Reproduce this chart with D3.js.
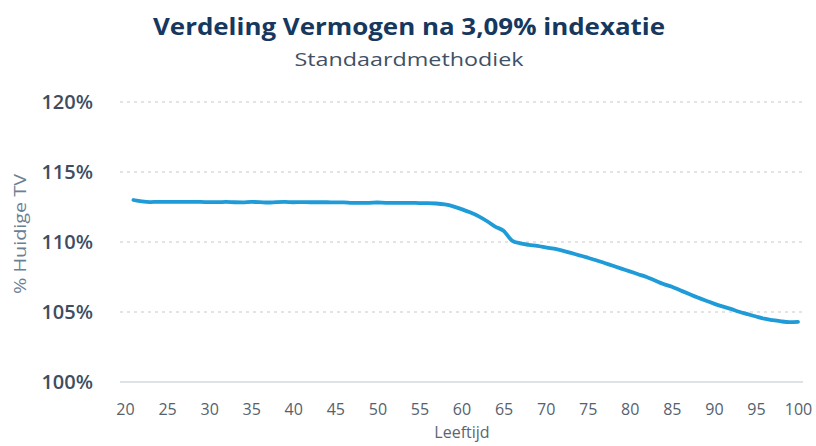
<!DOCTYPE html>
<html>
<head>
<meta charset="utf-8">
<script src="https://cdn.jsdelivr.net/npm/d3@7"></script>
<style>
  body { margin: 0; background: #fff; }
  svg { display: block; font-family: "Open Sans", "Noto Sans", sans-serif; }
</style>
</head>
<body>
<script>
var ages = [];
for (var a = 21; a <= 100; a++) ages.push(a);

var values = [
  113.0, 112.9, 112.85, 112.87, 112.87, 112.86, 112.87, 112.86, 112.86, 112.85,   // 21-30
  112.85, 112.86, 112.84, 112.83, 112.86, 112.85, 112.82, 112.85, 112.86, 112.84, // 31-40
  112.85, 112.84, 112.84, 112.84, 112.83, 112.83, 112.8, 112.8, 112.8, 112.82,    // 41-50
  112.8, 112.8, 112.8, 112.8, 112.78, 112.78, 112.75, 112.68, 112.55, 112.35,     // 51-60
  112.12, 111.85, 111.5, 111.1, 110.8, 110.1, 109.9, 109.8, 109.72, 109.62,       // 61-70
  109.52, 109.38, 109.22, 109.05, 108.88, 108.7, 108.5, 108.3, 108.1, 107.9,      // 71-80
  107.7, 107.5, 107.25, 107.0, 106.8, 106.55, 106.3, 106.05, 105.82, 105.6,       // 81-90
  105.4, 105.22, 105.02, 104.85, 104.68, 104.52, 104.42, 104.33, 104.28, 104.3    // 91-100
];

var yTicks = [100, 105, 110, 115, 120];
var xTicks = [20, 25, 30, 35, 40, 45, 50, 55, 60, 65, 70, 75, 80, 85, 90, 95, 100];

var title = "Verdeling Vermogen na 3,09% indexatie";
var subtitle = "Standaardmethodiek";
var yTitle = "% Huidige TV";
var xTitle = "Leeftijd";

var W = 816, H = 446;
var svg = d3.select("body").append("svg").attr("width", W).attr("height", H);

var x = d3.scaleLinear().domain([20, 100]).range([125, 798]);
var y = d3.scaleLinear().domain([100, 120]).range([382, 102]);

svg.append("text")
    .attr("x", 409).attr("y", 35)
    .attr("text-anchor", "middle")
    .attr("font-size", 24).attr("font-weight", "bold")
    .attr("fill", "#16385e")
    .attr("textLength", 512).attr("lengthAdjust", "spacingAndGlyphs")
    .text(title);

svg.append("text")
    .attr("x", 409).attr("y", 66)
    .attr("text-anchor", "middle")
    .attr("font-size", 19)
    .attr("fill", "#3f5165")
    .attr("textLength", 229).attr("lengthAdjust", "spacingAndGlyphs")
    .text(subtitle);

// gridlines
svg.append("g").selectAll("line")
    .data(yTicks)
    .join("line")
    .attr("x1", 120).attr("x2", 803)
    .attr("y1", function (d) { return y(d); })
    .attr("y2", function (d) { return y(d); })
    .attr("stroke", function (d) { return d == 100 ? "#dde2e6" : "#dcdcdc"; })
    .attr("stroke-width", function (d) { return d == 100 ? 2 : 1.5; })
    .attr("stroke-dasharray", function (d) { return d == 100 ? null : "3,4"; });

var yAxis = svg.append("g")
    .attr("transform", "translate(93,0)")
    .call(d3.axisLeft(y).tickValues(yTicks).tickSize(0).tickPadding(0)
        .tickFormat(function (d) { return d + "%"; }));
yAxis.select(".domain").remove();
yAxis.selectAll("text")
    .attr("font-size", 20)
    .attr("font-weight", 600)
    .attr("fill", "#3f4d5f")
    .attr("font-family", "'Open Sans', sans-serif");

var xAxis = svg.append("g")
    .attr("transform", "translate(0,404)")
    .call(d3.axisBottom(x).tickValues(xTicks).tickSize(0).tickPadding(0));
xAxis.select(".domain").remove();
xAxis.selectAll("text")
    .attr("font-size", 16)
    .attr("fill", "#56616d")
    .attr("font-family", "'Open Sans', sans-serif");

svg.append("text")
    .attr("x", 462).attr("y", 438)
    .attr("text-anchor", "middle")
    .attr("font-size", 16)
    .attr("fill", "#5b6672")
    .text(xTitle);

svg.append("text")
    .attr("transform", "translate(26,234) rotate(-90)")
    .attr("text-anchor", "middle")
    .attr("font-size", 16)
    .attr("fill", "#6c8093")
    .attr("textLength", 120).attr("lengthAdjust", "spacingAndGlyphs")
    .text(yTitle);

var line = d3.line()
    .x(function (d, i) { return x(ages[i]); })
    .y(function (d) { return y(d); })
    .curve(d3.curveMonotoneX);

svg.append("path")
    .datum(values)
    .attr("fill", "none")
    .attr("stroke", "#1f9bd7")
    .attr("stroke-width", 3.8)
    .attr("stroke-linejoin", "round")
    .attr("stroke-linecap", "round")
    .attr("d", line);
</script>
</body>
</html>
